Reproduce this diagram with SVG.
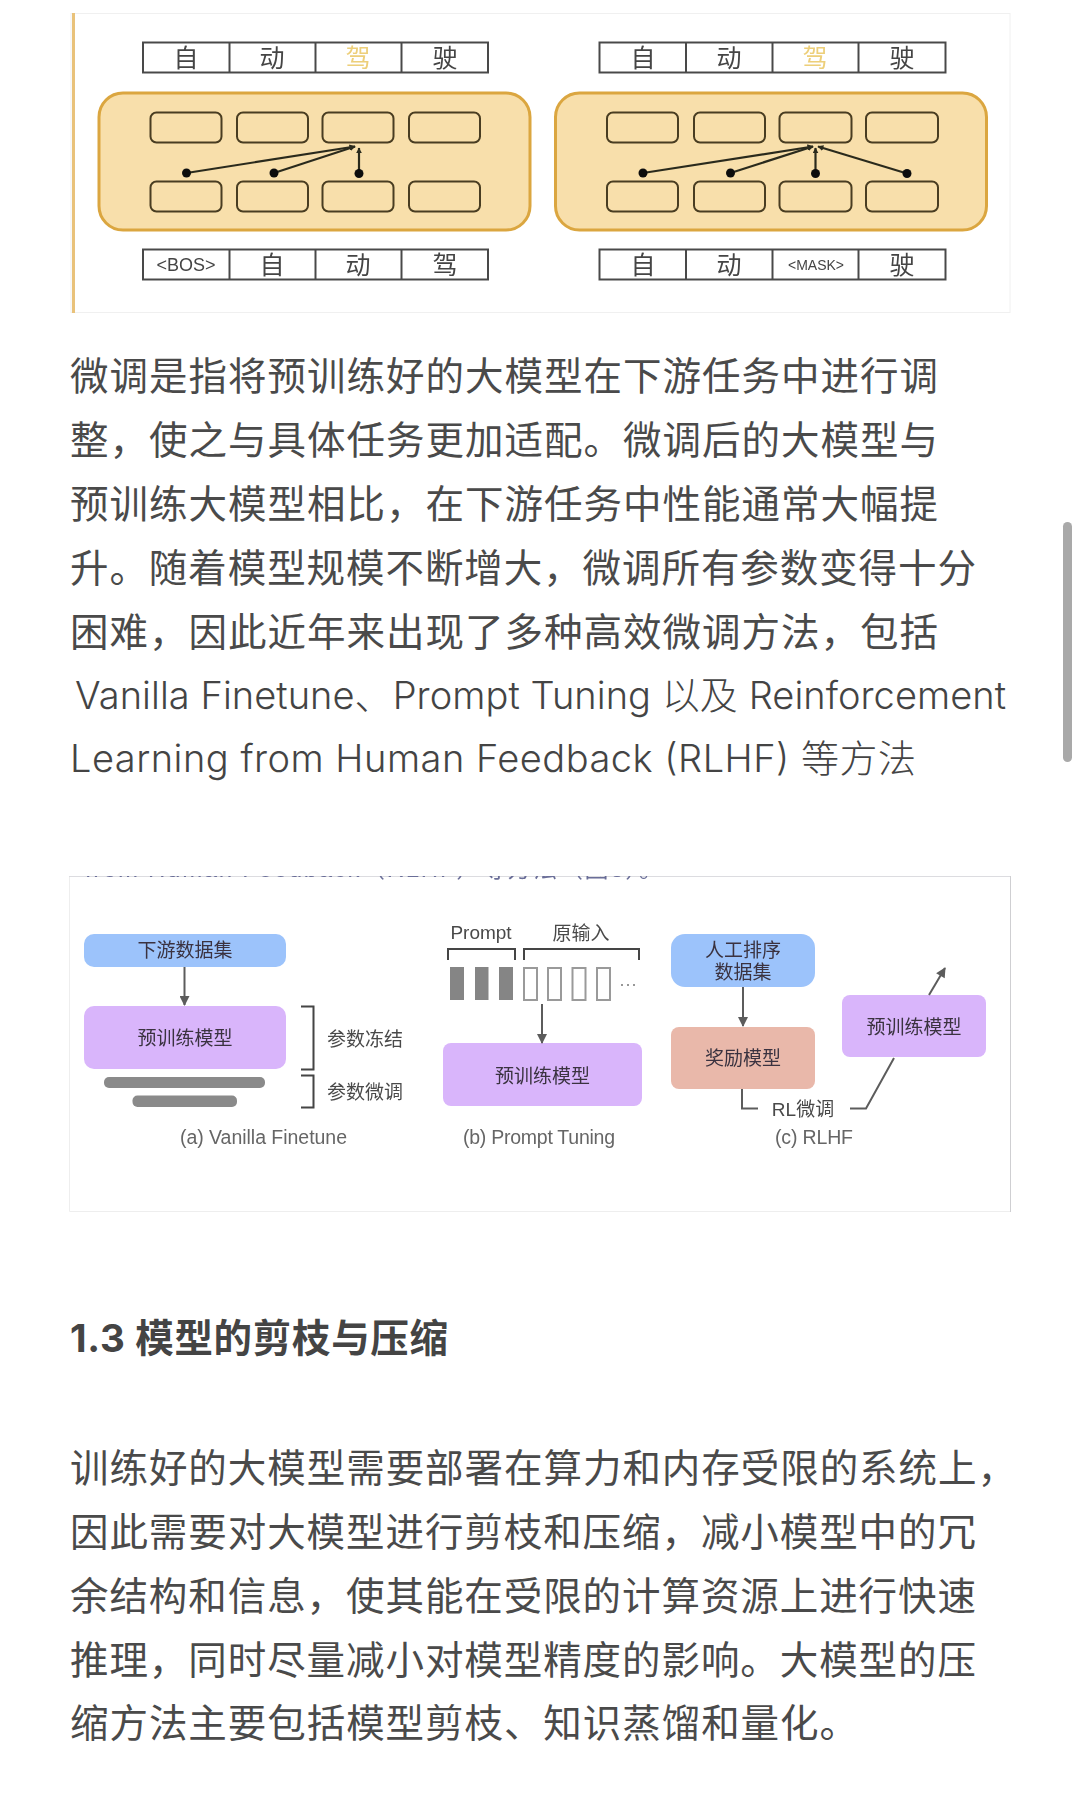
<svg xmlns="http://www.w3.org/2000/svg" width="1080" height="1798" viewBox="0 0 1080 1798">
<defs>
<style>
.body{font-family:"Inter","Noto Sans CJK SC",sans-serif;font-size:38px;font-weight:300;fill:#444}
.cjk{font-family:"Noto Sans CJK SC",sans-serif;font-size:38.500px;font-weight:400;fill:#4a4a4a}
.tok{fill:none;stroke:#4a4a4a;stroke-width:2}
.tt{font-family:"Noto Sans CJK SC",sans-serif;font-size:25px;fill:#444;text-anchor:middle}
.sm{font-family:"Liberation Sans","Noto Sans CJK SC",sans-serif;font-size:18px;fill:#444;text-anchor:middle}
.panel{fill:#f8dfab;stroke:#dba63f;stroke-width:3}
.cell{fill:none;stroke:#4a3d20;stroke-width:2}
.ln{fill:none;stroke:#2b2b1e;stroke-width:2.200}
.blue{fill:#9cc3fb}.pur{fill:#d9b5fb}.sal{fill:#e9b8aa}
.nt{font-family:"Noto Sans CJK SC",sans-serif;font-size:19px;fill:#3a3340;text-anchor:middle}
.cap{font-family:"Liberation Sans","Noto Sans CJK SC",sans-serif;font-size:19.500px;fill:#666;text-anchor:middle}
.lab{font-family:"Liberation Sans","Noto Sans CJK SC",sans-serif;font-size:19px;fill:#4a4a4a;text-anchor:middle}
.g{fill:none;stroke:#5c5c5c;stroke-width:2}
.gb{fill:none;stroke:#444;stroke-width:2}
.soft{filter:url(#soft)}
</style>
<filter id="soft" x="-2%" y="-2%" width="104%" height="104%"><feGaussianBlur stdDeviation="0.450"/></filter>
<marker id="ah" viewBox="0 0 10 10" refX="9" refY="5" markerWidth="11" markerHeight="10" markerUnits="userSpaceOnUse" orient="auto"><path d="M0 0L10 5L0 10Z" fill="#5c5c5c"/></marker>
<marker id="ak" viewBox="0 0 10 10" refX="9" refY="5" markerWidth="6" markerHeight="6" markerUnits="userSpaceOnUse" orient="auto"><path d="M0 0L10 5L0 10Z" fill="#2b2b1e"/></marker>
<clipPath id="clipTop"><rect x="69" y="876" width="941" height="20"/></clipPath>
</defs>
<rect width="1080" height="1798" fill="#fff"/>

<g id="card-1">
<rect x="71" y="13.500" width="939" height="299" fill="#fff" stroke="#f0f0f0"/>
<rect x="72" y="13" width="3" height="300" fill="#e9c27a"/>
</g>

<g id="figure-1" class="soft">
<g id="left-top-tokens">
<rect class="tok" x="143" y="42.500" width="345" height="30"/>
<path class="tok" d="M229.500 42V73M315.500 42V73M401.500 42V73"/>
<text class="tt" x="186" y="67">自</text><text class="tt" x="272" y="67">动</text><text class="tt" x="358" y="67" style="fill:#edcf7a">驾</text><text class="tt" x="445" y="67">驶</text>
</g>
<g id="left-panel">
<rect class="panel" x="99" y="93" width="431" height="137" rx="24"/>
<rect class="cell" x="150.500" y="112.500" width="71" height="30" rx="6"/><rect class="cell" x="237" y="112.500" width="71" height="30" rx="6"/><rect class="cell" x="322.500" y="112.500" width="71" height="30" rx="6"/><rect class="cell" x="409" y="112.500" width="71" height="30" rx="6"/>
<rect class="cell" x="150.500" y="181.500" width="71" height="30" rx="6"/><rect class="cell" x="237" y="181.500" width="71" height="30" rx="6"/><rect class="cell" x="322.500" y="181.500" width="71" height="30" rx="6"/><rect class="cell" x="409" y="181.500" width="71" height="30" rx="6"/>
</g>
<g id="left-bottom-tokens">
<rect class="tok" x="143" y="249.500" width="345" height="30"/>
<path class="tok" d="M229.500 249V280M315.500 249V280M401.500 249V280"/>
<text class="sm" x="186" y="271">&lt;BOS&gt;</text><text class="tt" x="272" y="274">自</text><text class="tt" x="358" y="274">动</text><text class="tt" x="445" y="274">驾</text>
</g>

<g id="right-top-tokens">
<rect class="tok" x="599.500" y="42.500" width="346" height="30"/>
<path class="tok" d="M686 42V73M772.500 42V73M858.500 42V73"/>
<text class="tt" x="643" y="67">自</text><text class="tt" x="729" y="67">动</text><text class="tt" x="815" y="67" style="fill:#edcf7a">驾</text><text class="tt" x="902" y="67">驶</text>
</g>
<g id="right-panel">
<rect class="panel" x="555.500" y="93" width="431" height="137" rx="24"/>
<rect class="cell" x="607" y="112.500" width="71" height="30" rx="6"/><rect class="cell" x="694" y="112.500" width="71" height="30" rx="6"/><rect class="cell" x="779.500" y="112.500" width="72" height="30" rx="6"/><rect class="cell" x="866" y="112.500" width="72" height="30" rx="6"/>
<rect class="cell" x="607" y="181.500" width="71" height="30" rx="6"/><rect class="cell" x="694" y="181.500" width="71" height="30" rx="6"/><rect class="cell" x="779.500" y="181.500" width="72" height="30" rx="6"/><rect class="cell" x="866" y="181.500" width="72" height="30" rx="6"/>
</g>
<g id="right-bottom-tokens">
<rect class="tok" x="599.500" y="249.500" width="346" height="30"/>
<path class="tok" d="M686 249V280M772.500 249V280M858.500 249V280"/>
<text class="tt" x="643" y="274">自</text><text class="tt" x="729" y="274">动</text><text class="sm" x="816" y="270" style="font-size:14px">&lt;MASK&gt;</text><text class="tt" x="902" y="274">驶</text>
</g>

<g id="connectors-attention">
<path class="ln" d="M186.500 173L355 146.500" marker-end="url(#ak)"/><path class="ln" d="M274 173L355 146.500" marker-end="url(#ak)"/><path class="ln" d="M359 173.500V148" marker-end="url(#ak)"/>
<path class="ln" d="M643 173L813 146.500" marker-end="url(#ak)"/><path class="ln" d="M730.500 173L813 146.500" marker-end="url(#ak)"/><path class="ln" d="M815.500 173.500V148" marker-end="url(#ak)"/><path class="ln" d="M907 173.500L818 146.500" marker-end="url(#ak)"/>
<circle cx="186.500" cy="173" r="4.500" fill="#111"/><circle cx="274" cy="173" r="4.500" fill="#111"/><circle cx="359" cy="173.500" r="4.500" fill="#111"/>
<circle cx="643" cy="173" r="4.500" fill="#111"/><circle cx="730.500" cy="173" r="4.500" fill="#111"/><circle cx="815.500" cy="173.500" r="4.500" fill="#111"/><circle cx="907" cy="173.500" r="4.500" fill="#111"/>
</g>
</g>

<g id="paragraph-1" class="body">
<text class="cjk" x="70" y="390" textLength="868">微调是指将预训练好的大模型在下游任务中进行调</text>
<text class="cjk" x="70" y="454" textLength="868">整，使之与具体任务更加适配。微调后的大模型与</text>
<text class="cjk" x="70" y="518" textLength="868">预训练大模型相比，在下游任务中性能通常大幅提</text>
<text class="cjk" x="70" y="582" textLength="906">升。随着模型规模不断增大，微调所有参数变得十分</text>
<text class="cjk" x="70" y="646" textLength="868">困难，因此近年来出现了多种高效微调方法，包括</text>
<text x="75" y="709" textLength="931">Vanilla Finetune、Prompt Tuning 以及 Reinforcement</text>
<text x="70" y="772" textLength="846">Learning from Human Feedback (RLHF) 等方法</text>
</g>

<g id="card-2">
<path d="M69.500 876.500V1211.500H1010.500V876.500H69.500" fill="#fff" stroke="#eeeeee"/>
<path d="M69 876.500H1010" stroke="#dcdce0" fill="none"/>
<path d="M1010.500 876V1212" stroke="#cfcfd2" fill="none"/>
<text clip-path="url(#clipTop)" class="soft" x="85" y="877" textLength="578" style="font-family:'Liberation Sans','Noto Sans CJK SC',sans-serif;font-size:24px;fill:#6a6e98">from Human Feedback（RLHF）等方法（图3）。</text>
</g>

<g id="figure-2" class="soft">
<g id="a-dataset"><rect class="blue" x="84" y="934" width="202" height="33" rx="10"/><text class="nt" x="185" y="957">下游数据集</text></g>
<g id="a-model"><rect class="pur" x="84" y="1006" width="202" height="63" rx="10"/><text class="nt" x="185" y="1045">预训练模型</text></g>
<g id="a-bars"><rect x="104" y="1077" width="161" height="11" rx="5" fill="#8a8a8a"/><rect x="132.500" y="1095.500" width="104.500" height="11.500" rx="5" fill="#8a8a8a"/></g>
<g id="a-labels">
<text class="lab" x="365" y="1046">参数冻结</text><text class="lab" x="365" y="1099">参数微调</text>
<text class="cap" x="263.500" y="1144" textLength="167">(a) Vanilla Finetune</text>
</g>

<g id="b-prompt">
<text class="lab" x="481" y="939">Prompt</text><text class="lab" x="581" y="940">原输入</text>
<rect x="450" y="967" width="14" height="33" fill="#858585"/><rect x="475" y="967" width="13.500" height="33" fill="#858585"/><rect x="499" y="967" width="14" height="33" fill="#858585"/>
<g fill="none" stroke="#9a9a9a" stroke-width="2"><rect x="524" y="968" width="13" height="32"/><rect x="548" y="968" width="13" height="32"/><rect x="572.500" y="968" width="13" height="32"/><rect x="597" y="968" width="13" height="32"/></g>
<path d="M621 985H623M627 985H629M633 985H635" stroke="#777" stroke-width="1.500" fill="none"/>
</g>
<g id="b-model"><rect class="pur" x="443" y="1043" width="199" height="63" rx="8"/><text class="nt" x="542.500" y="1083">预训练模型</text></g>
<g id="b-caption"><text class="cap" x="539" y="1144" textLength="152">(b) Prompt Tuning</text></g>

<g id="c-dataset"><rect class="blue" x="671" y="934" width="144" height="53" rx="14"/><text class="nt" x="743" y="957">人工排序</text><text class="nt" x="743" y="979">数据集</text></g>
<g id="c-reward"><rect class="sal" x="671" y="1027" width="144" height="62" rx="8"/><text class="nt" x="743" y="1065">奖励模型</text></g>
<g id="c-model"><rect class="pur" x="842" y="995" width="144" height="62" rx="8"/><text class="nt" x="914" y="1034">预训练模型</text></g>
<g id="c-labels"><text class="lab" x="803" y="1116">RL微调</text><text class="cap" x="814" y="1144" textLength="78">(c) RLHF</text></g>

<g id="connectors">
<path class="g" d="M184.500 967V1005" marker-end="url(#ah)"/>
<path class="gb" d="M301 1006.500H313.500V1069.500H301M301 1075.500H313.500V1107.500H301"/>
<path class="gb" d="M448 960V949H515V960M524 960V949H639V960"/>
<path class="g" d="M542 1004V1043" marker-end="url(#ah)"/>
<path class="g" d="M743 987V1026" marker-end="url(#ah)"/>
<path class="g" d="M742 1089V1108.500H758M850 1108.500H866L894 1058"/>
<path class="g" d="M929 995L945 968" marker-end="url(#ah)"/>
</g>
</g>

<g id="heading"><text x="70" y="1352" style="font-family:'Inter','Noto Sans CJK SC',sans-serif;font-size:38.500px;font-weight:700;fill:#444" textLength="378">1.3 模型的剪枝与压缩</text></g>

<g id="paragraph-2" class="body">
<text class="cjk" x="70" y="1482" textLength="946">训练好的大模型需要部署在算力和内存受限的系统上，</text>
<text class="cjk" x="70" y="1546" textLength="906">因此需要对大模型进行剪枝和压缩，减小模型中的冗</text>
<text class="cjk" x="70" y="1610" textLength="906">余结构和信息，使其能在受限的计算资源上进行快速</text>
<text class="cjk" x="70" y="1674" textLength="906">推理，同时尽量减小对模型精度的影响。大模型的压</text>
<text class="cjk" x="70" y="1737" textLength="788">缩方法主要包括模型剪枝、知识蒸馏和量化。</text>
</g>

<g id="scrollbar"><rect x="1063" y="522" width="9" height="240" rx="4.500" fill="#a9a9a9"/></g>
</svg>
